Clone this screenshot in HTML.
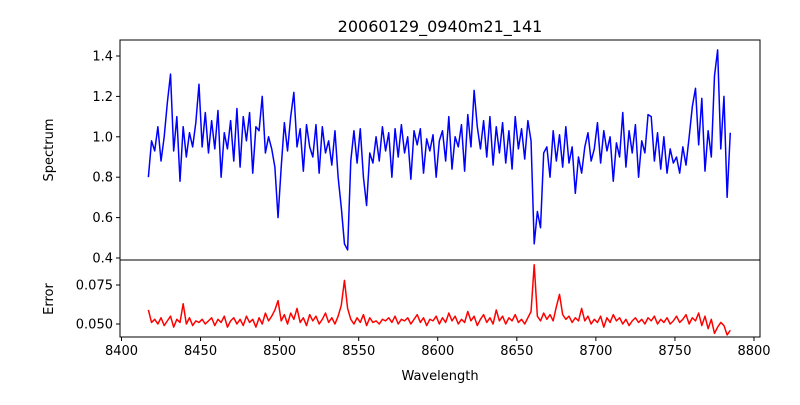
<!DOCTYPE html>
<html><head><meta charset="utf-8"><style>
body{margin:0;background:#fff;}
svg text{font-family:"DejaVu Sans","Liberation Sans",sans-serif;fill:#000;}
</style></head><body>
<svg id="chart" width="800" height="400" xmlns="http://www.w3.org/2000/svg">
<text x="440" y="32" font-size="16" text-anchor="middle">20060129_0940m21_141</text>
<g id="topPanel"></g>
<g id="botPanel"></g>
<text x="440" y="380" font-size="13" text-anchor="middle">Wavelength</text>
<text x="0" y="0" font-size="13" text-anchor="middle" transform="translate(53,150) rotate(-90)">Spectrum</text>
<text x="0" y="0" font-size="13" text-anchor="middle" transform="translate(53,299) rotate(-90)">Error</text>
</svg>
<script>
const wStart = 8417, wStep = 2;
const spectrum = [0.80,0.98,0.93,1.05,0.88,1.00,1.17,1.31,0.93,1.10,0.78,1.05,0.90,1.02,0.95,1.07,1.26,0.95,1.12,0.92,1.08,0.94,1.13,0.80,1.02,0.94,1.08,0.88,1.14,0.85,1.10,0.98,1.12,0.82,1.05,1.03,1.20,0.92,1.00,0.94,0.85,0.60,0.85,1.07,0.93,1.10,1.22,0.95,1.04,0.83,1.06,0.95,0.90,1.06,0.82,1.05,0.92,0.98,0.86,1.03,0.80,0.65,0.47,0.44,0.88,1.03,0.87,1.04,0.80,0.66,0.92,0.87,1.00,0.88,1.05,0.93,1.02,0.80,1.04,0.90,1.06,0.92,1.00,0.79,1.03,0.96,1.04,0.82,0.99,0.93,1.01,0.80,0.98,1.03,0.88,1.10,0.84,1.00,0.95,1.06,0.83,1.11,0.95,1.23,1.05,0.94,1.08,0.90,1.10,0.86,1.05,0.92,1.07,0.87,1.03,0.84,1.10,0.94,1.04,0.89,1.08,0.98,0.47,0.63,0.55,0.92,0.95,0.80,1.03,0.88,1.01,0.85,1.05,0.87,0.95,0.72,0.90,0.82,0.95,1.02,0.88,0.94,1.07,0.87,1.03,0.93,1.00,0.78,0.97,0.90,1.12,0.85,1.03,0.92,1.06,0.80,0.98,0.92,1.11,1.10,0.88,1.02,0.84,1.00,0.82,0.94,0.87,0.90,0.82,0.95,0.86,1.00,1.15,1.24,0.96,1.19,0.83,1.03,0.90,1.30,1.43,0.94,1.20,0.70,1.02];
const errors = [0.059,0.051,0.053,0.050,0.054,0.049,0.052,0.055,0.048,0.053,0.051,0.063,0.050,0.054,0.049,0.052,0.051,0.053,0.050,0.052,0.054,0.049,0.053,0.051,0.055,0.048,0.052,0.054,0.050,0.053,0.049,0.055,0.051,0.053,0.048,0.054,0.050,0.057,0.052,0.055,0.059,0.065,0.052,0.056,0.050,0.057,0.053,0.060,0.051,0.054,0.049,0.056,0.052,0.055,0.050,0.053,0.057,0.051,0.054,0.050,0.055,0.062,0.078,0.060,0.053,0.050,0.054,0.051,0.056,0.049,0.054,0.051,0.052,0.050,0.053,0.052,0.054,0.051,0.055,0.050,0.053,0.052,0.054,0.050,0.053,0.056,0.051,0.054,0.049,0.053,0.052,0.055,0.050,0.054,0.051,0.057,0.052,0.055,0.050,0.053,0.051,0.058,0.052,0.055,0.049,0.053,0.056,0.051,0.054,0.050,0.059,0.052,0.055,0.050,0.054,0.052,0.056,0.051,0.053,0.050,0.054,0.058,0.088,0.055,0.052,0.057,0.053,0.056,0.052,0.061,0.069,0.056,0.053,0.055,0.051,0.054,0.052,0.060,0.052,0.055,0.050,0.053,0.051,0.055,0.048,0.054,0.051,0.056,0.052,0.054,0.050,0.053,0.049,0.052,0.054,0.051,0.053,0.050,0.054,0.052,0.055,0.050,0.053,0.051,0.054,0.050,0.052,0.055,0.051,0.053,0.056,0.050,0.054,0.052,0.057,0.049,0.055,0.047,0.053,0.044,0.048,0.051,0.049,0.043,0.046];
const xTicks = [8400,8450,8500,8550,8600,8650,8700,8750,8800];
const topTicks = [0.4,0.6,0.8,1.0,1.2,1.4];
const botTicks = [0.050,0.075];

const NS='http://www.w3.org/2000/svg';
const L=120,R=760,T=40,M=260,B=337;
const xs=w=>121.5+(w-8400)*(754-121.5)/400;
const ysT=v=>258+(v-0.4)*(56-258)/1.0;
const ysB=v=>324+(v-0.050)*(285-324)/0.025;
function mk(tag,attrs,parent){const e=document.createElementNS(NS,tag);for(const k in attrs)e.setAttribute(k,attrs[k]);parent.appendChild(e);return e;}
const topG=document.getElementById('topPanel'),botG=document.getElementById('botPanel');

function drawLine(arr,ys,color,parent,name){
  let d='';arr.forEach((v,i)=>{d+=(i?'L':'M')+xs(wStart+i*wStep).toFixed(2)+','+ys(v).toFixed(2);});
  const p=mk('path',{d:d,fill:'none',stroke:color,'stroke-width':1.5,'stroke-linejoin':'round'},parent);
  
  
}
drawLine(spectrum,ysT,'#0000ff',topG,'spectrum-line');
drawLine(errors,ysB,'#ff0000',botG,'error-line');

const f1=mk('rect',{x:L,y:T,width:R-L,height:M-T,fill:'none',stroke:'#000','stroke-width':1},topG);


const f2=mk('rect',{x:L,y:M,width:R-L,height:B-M,fill:'none',stroke:'#000','stroke-width':1},botG);



topTicks.forEach(v=>{const y=ysT(v);
  mk('line',{x1:L-4,x2:L,y1:y,y2:y,stroke:'#000'},topG);
  const t=mk('text',{x:L-7,y:y+4.5,'font-size':13,'text-anchor':'end'},topG);t.textContent=v.toFixed(1);
  
  
});
botTicks.forEach(v=>{const y=ysB(v);
  mk('line',{x1:L-4,x2:L,y1:y,y2:y,stroke:'#000'},botG);
  const t=mk('text',{x:L-7,y:y+4.5,'font-size':13,'text-anchor':'end'},botG);t.textContent=v.toFixed(3);
  
  
});
xTicks.forEach(w=>{const x=xs(w);
  mk('line',{x1:x,x2:x,y1:B,y2:B+4,stroke:'#000'},botG);
  const t=mk('text',{x:x,y:B+18,'font-size':13,'text-anchor':'middle'},botG);t.textContent=w;
  
  
});
</script>
</body></html>
